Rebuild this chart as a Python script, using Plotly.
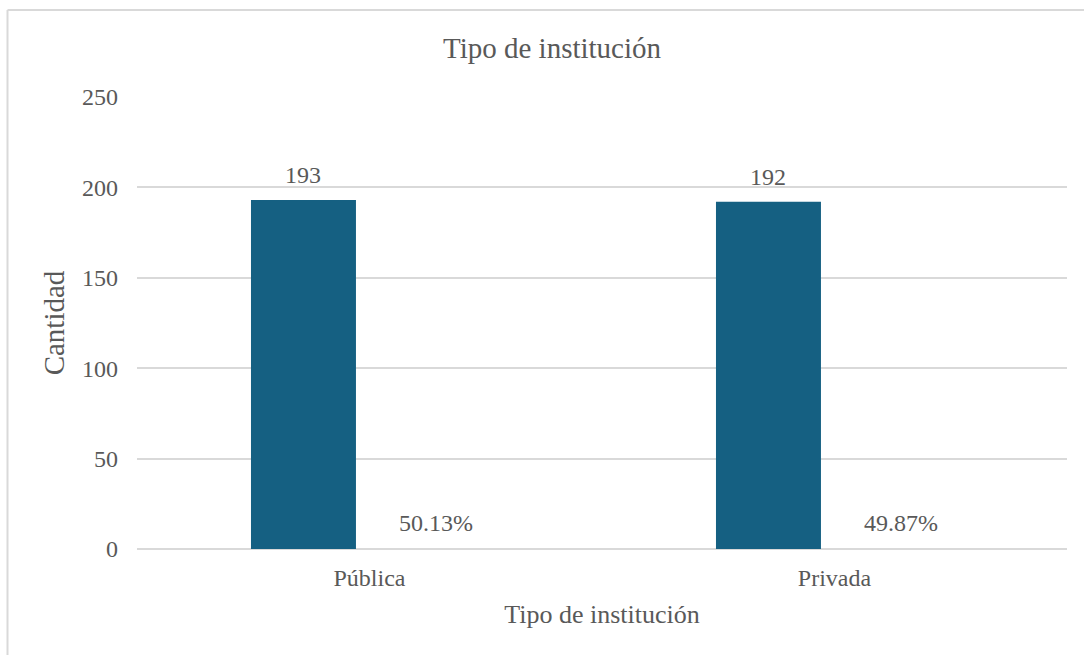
import plotly.graph_objects as go

# Data
categorias = ["Pública", "Privada"]
cantidad = [193, 192]
porcentaje = [50.13, 49.87]
y_ticks = [0, 50, 100, 150, 200, 250]

W, H = 1084, 655
ML, MR, MT, MB = 137, 17, 97, 106
FONT = "Liberation Serif"
GRAY = "#595959"
GRID = "#d9d9d9"
BAR = "#156082"

BARGAP = 0.432
BARGROUPGAP = 0.205
plot_w = W - ML - MR
cat_w = plot_w / len(categorias)
half_slot = cat_w * (1 - BARGAP) / 4  # distance from category centre to each bar centre


def px_x(px):
    return (px - ML) / plot_w


def px_y(py):
    return (H - MB - py) / (H - MT - MB)


fig = go.Figure()
fig.add_trace(go.Bar(
    name="Cantidad", x=categorias, y=cantidad,
    marker=dict(color=BAR, line=dict(width=0)),
    hoverinfo="x+y",
))
# Percentage series: same axis, so its bars are practically flat
fig.add_trace(go.Bar(
    name="Porcentaje", x=categorias, y=[p / 100 for p in porcentaje],
    marker=dict(color="rgba(0,0,0,0)", line=dict(width=0)),
    hoverinfo="x+text", hovertext=[f"{p:.2f}%" for p in porcentaje],
))

annotations = []
for c, v in zip(categorias, cantidad):
    annotations.append(dict(
        x=c, y=v, xref="x", yref="y", text=str(v), showarrow=False,
        xshift=-half_slot, yshift=25, yanchor="middle",
        font=dict(family=FONT, size=24, color=GRAY)))
for c, p in zip(categorias, porcentaje):
    annotations.append(dict(
        x=c, y=p / 100, xref="x", yref="y", text=f"{p:.2f}%", showarrow=False,
        xshift=half_slot, yshift=25, yanchor="middle",
        font=dict(family=FONT, size=24, color=GRAY)))

# Chart-area frame (top and left edges)
shapes = [
    dict(type="line", xref="paper", yref="paper",
         x0=px_x(7.5), x1=px_x(W + 5), y0=px_y(10), y1=px_y(10),
         line=dict(color=GRID, width=2)),
    dict(type="line", xref="paper", yref="paper",
         x0=px_x(7.5), x1=px_x(7.5), y0=px_y(10), y1=px_y(H + 5),
         line=dict(color=GRID, width=2)),
]

fig.update_layout(
    width=W, height=H,
    margin=dict(l=ML, r=MR, t=MT, b=MB),
    paper_bgcolor="white", plot_bgcolor="white",
    barmode="group", bargap=BARGAP, bargroupgap=BARGROUPGAP,
    showlegend=False,
    font=dict(family=FONT, color=GRAY),
    title=dict(text="Tipo de institución", x=552 / W, xref="container",
               xanchor="center", y=1 - 48 / H, yref="container",
               yanchor="middle",
               font=dict(family=FONT, size=29, color=GRAY)),
    annotations=annotations,
    shapes=shapes,
)
fig.update_xaxes(
    type="category", showgrid=False, showline=False, zeroline=False,
    ticks="", ticklabelstandoff=12,
    tickfont=dict(family=FONT, size=24, color=GRAY),
    title=dict(text="Tipo de institución", standoff=14,
               font=dict(family=FONT, size=26, color=GRAY)),
)
fig.update_yaxes(
    range=[0, 250], tickvals=y_ticks, showgrid=True, gridcolor=GRID,
    gridwidth=1.5, zeroline=True, zerolinecolor=GRID, zerolinewidth=1.5,
    showline=False, ticks="", ticklabelstandoff=18,
    tickfont=dict(family=FONT, size=24, color=GRAY),
    title=dict(text="Cantidad", standoff=8,
               font=dict(family=FONT, size=29, color=GRAY)),
)

fig.write_html("out.html")
